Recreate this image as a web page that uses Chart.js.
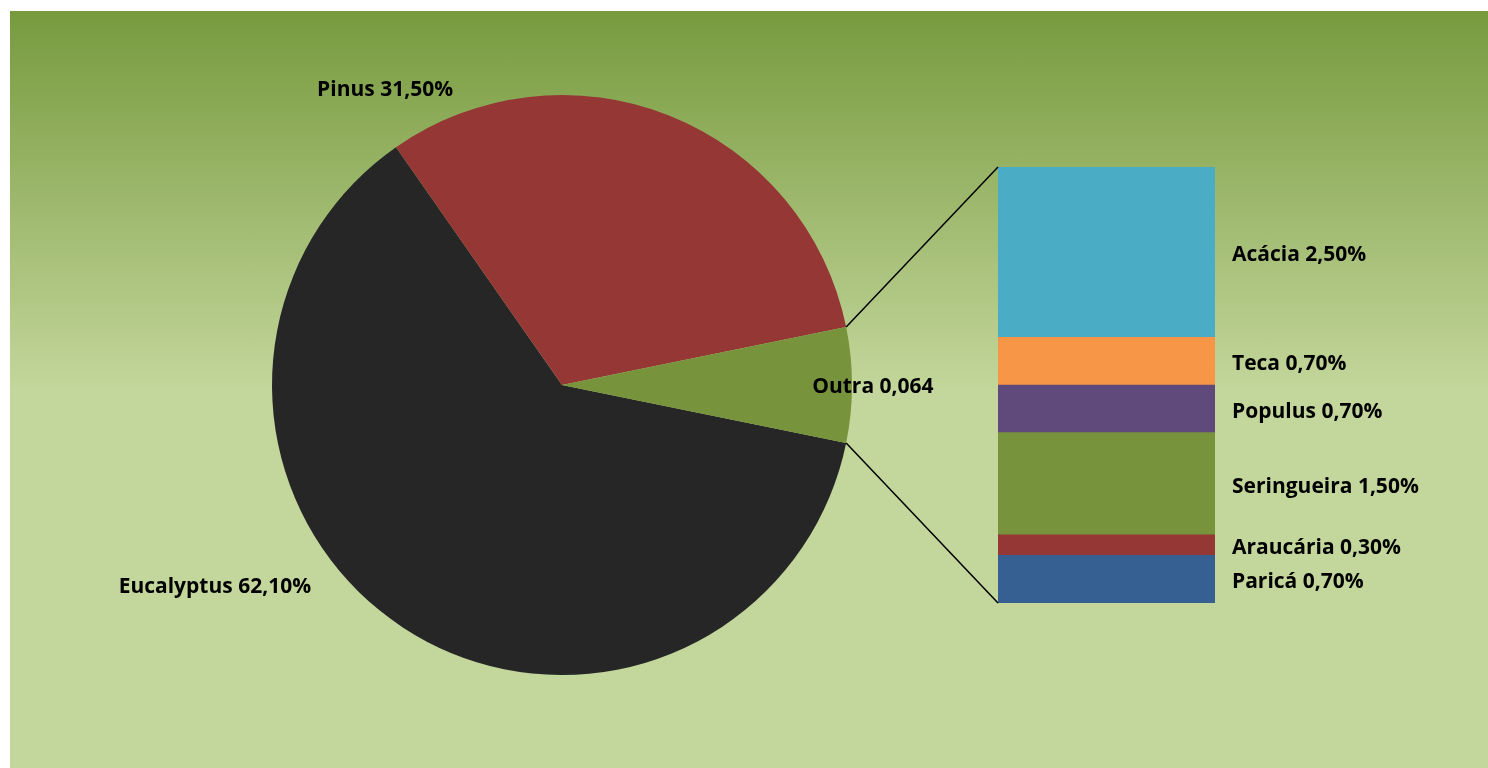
<!DOCTYPE html>
<html>
<head>
<meta charset="utf-8">
<script src="https://cdn.jsdelivr.net/npm/chart.js@4/dist/chart.umd.min.js"></script>
<style>
    body { margin: 0; background: #fff; }
    #wrap {
        position: absolute; left: 10px; top: 11px; width: 1478px; height: 757px;
        background: linear-gradient(to bottom, #779a3e 0%, #c3d69b 50%, #c3d69b 100%);
    }
    #wrap canvas { position: absolute; left: 0; top: 0; }
</style>
</head>
<body>
<div id="wrap">
    <canvas id="pie" width="1478" height="757"></canvas>
    <canvas id="bar" width="1478" height="757"></canvas>
</div>
<script>
"use strict";

// main pie
const pieLabels = ["Eucalyptus", "Pinus", "Outra"];
const pieValues = [62.1, 31.5, 6.4];
const pieColors = ["#262626", "#953735", "#77933c"];

// breakdown of "Outra", listed bottom to top as stacked
const barLabels = ["Paricá", "Araucária", "Seringueira", "Populus", "Teca", "Acácia"];
const barValues = [0.7, 0.3, 1.5, 0.7, 0.7, 2.5];
const barColors = ["#376092", "#953735", "#77933c", "#604a7b", "#f79646", "#4bacc6"];

const FONT = "bold 21px 'Open Sans', Lato, sans-serif";

function pct(v) {
    return v.toFixed(2).replace(".", ",") + "%";
}

function pieText(i) {
    // Outra is shown as a fraction in the original
    if (i === 2) return pieLabels[i] + " " + (pieValues[i] / 100).toFixed(3).replace(".", ",");
    return pieLabels[i] + " " + pct(pieValues[i]);
}

const total = pieValues.reduce((a, b) => a + b, 0);

// label offsets relative to the pie centre, in radii
const pieLabelPos = [[-1.197, 0.695], [-0.61, -1.018], [1.072, 0.008]];

const pieLabelPlugin = {
    id: "pieLabels",
    afterDraw(chart) {
        const ctx = chart.ctx;
        const arcs = chart.getDatasetMeta(0).data;
        ctx.save();
        ctx.font = FONT;
        ctx.fillStyle = "#000";
        ctx.textAlign = "center";
        ctx.textBaseline = "middle";
        arcs.forEach((arc, i) => {
            const r = arc.outerRadius;
            ctx.fillText(pieText(i), arc.x + pieLabelPos[i][0] * r, arc.y + pieLabelPos[i][1] * r);
        });
        ctx.restore();
    }
};

const pieChart = new Chart(document.getElementById("pie"), {
    type: "pie",
    data: {
        labels: pieLabels,
        datasets: [{
            data: pieValues,
            backgroundColor: pieColors,
            borderWidth: 0
        }]
    },
    options: {
        responsive: false,
        animation: false,
        rotation: 90 + (pieValues[2] / total) * 180,
        layout: {padding: {top: 84, bottom: 93, left: 262, right: 636}},
        plugins: {legend: {display: false}, tooltip: {enabled: false}}
    },
    plugins: [pieLabelPlugin]
});

const barLabelPlugin = {
    id: "barLabels",
    afterDraw(chart) {
        const ctx = chart.ctx;
        ctx.save();
        ctx.font = FONT;
        ctx.fillStyle = "#000";
        ctx.textAlign = "left";
        ctx.textBaseline = "middle";
        let top = null, bottom = null;
        chart.data.datasets.forEach((ds, i) => {
            const bar = chart.getDatasetMeta(i).data[0];
            const left = bar.x - bar.width / 2;
            if (i === 0) bottom = {x: left, y: bar.base};
            top = {x: left, y: bar.y};
            ctx.fillText(ds.label + " " + pct(barValues[i]), bar.x + bar.width / 2 + 17, (bar.y + bar.base) / 2 + 3);
        });
        // connector lines from the "Outra" slice to the bar
        const arc = pieChart.getDatasetMeta(0).data[2];
        const r = arc.outerRadius;
        ctx.strokeStyle = "#000";
        ctx.lineWidth = 1.5;
        ctx.beginPath();
        ctx.moveTo(arc.x + r * Math.cos(arc.startAngle), arc.y + r * Math.sin(arc.startAngle));
        ctx.lineTo(top.x, top.y);
        ctx.moveTo(arc.x + r * Math.cos(arc.endAngle), arc.y + r * Math.sin(arc.endAngle));
        ctx.lineTo(bottom.x, bottom.y);
        ctx.stroke();
        ctx.restore();
    }
};

new Chart(document.getElementById("bar"), {
    type: "bar",
    data: {
        labels: ["Outra"],
        datasets: barLabels.map((label, i) => ({
            label: label,
            data: [barValues[i]],
            backgroundColor: barColors[i],
            borderWidth: 0,
            barPercentage: 1,
            categoryPercentage: 1
        }))
    },
    options: {
        responsive: false,
        animation: false,
        layout: {padding: {top: 156, bottom: 165, left: 988, right: 273}},
        scales: {
            x: {stacked: true, display: false},
            y: {stacked: true, display: false, min: 0, max: barValues.reduce((a, b) => a + b, 0)}
        },
        plugins: {legend: {display: false}, tooltip: {enabled: false}}
    },
    plugins: [barLabelPlugin]
});
</script>
</body>
</html>
